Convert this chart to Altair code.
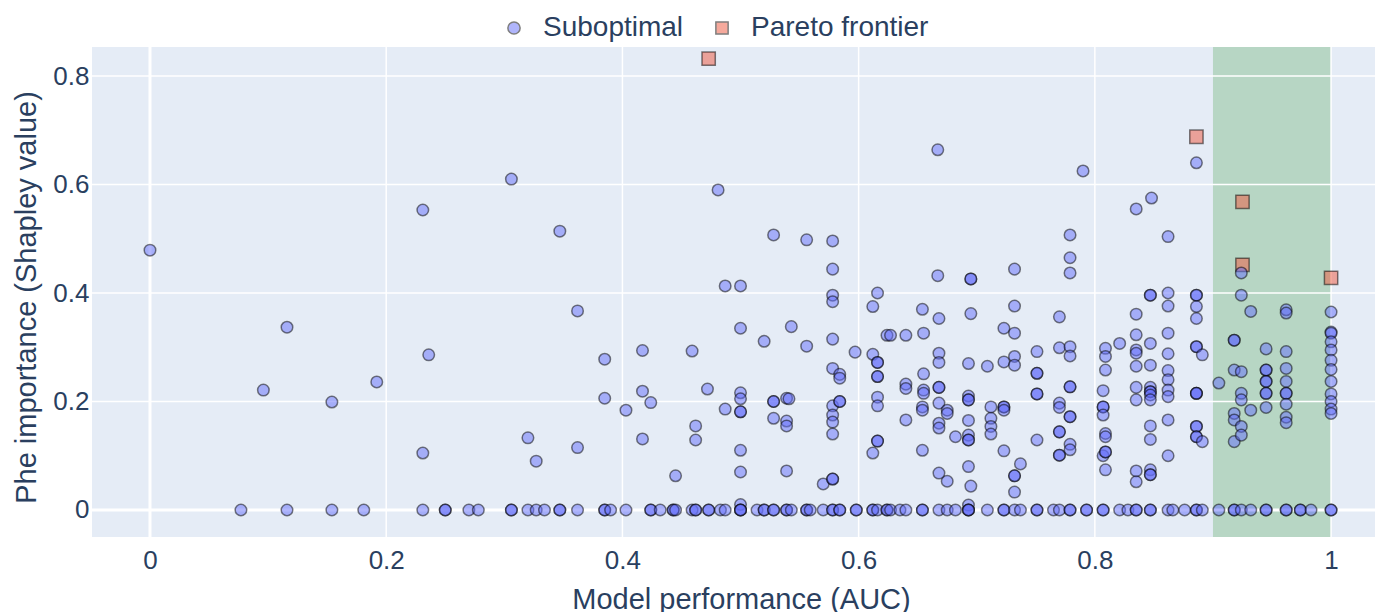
import altair as alt
import pandas as pd

# ---------------- data ----------------
# Suboptimal models with non-zero importance
sub_x = [
    0.000, 0.096, 0.116, 0.154, 0.192, 0.231, 0.236, 0.231, 0.306, 0.320, 0.327, 0.347,
    0.362, 0.362, 0.385, 0.385, 0.403, 0.417, 0.417, 0.417, 0.424, 0.445,
    0.459, 0.462, 0.462, 0.472, 0.481, 0.487, 0.487, 0.500, 0.500, 0.500, 0.500, 0.500,
    0.500, 0.500, 0.500, 0.500, 0.520, 0.528, 0.528, 0.528, 0.528, 0.539, 0.541, 0.539,
    0.539, 0.539, 0.543, 0.556, 0.556, 0.570, 0.578, 0.578, 0.578, 0.578, 0.578, 0.578,
    0.578, 0.578, 0.578, 0.578, 0.578, 0.578, 0.584, 0.584, 0.584, 0.584, 0.597, 0.612,
    0.612, 0.612, 0.616, 0.616, 0.616, 0.616, 0.616, 0.616, 0.616, 0.616, 0.616, 0.624,
    0.627, 0.640, 0.640, 0.640, 0.640, 0.654, 0.655, 0.655, 0.655, 0.655, 0.654, 0.654,
    0.654, 0.667, 0.667, 0.668, 0.668, 0.668, 0.668, 0.668, 0.668, 0.668, 0.668, 0.668,
    0.675, 0.675, 0.675, 0.682, 0.693, 0.693, 0.693, 0.693, 0.693, 0.693, 0.693, 0.693,
    0.693, 0.695, 0.693, 0.695, 0.695, 0.695, 0.709, 0.712, 0.712, 0.712, 0.712, 0.723,
    0.723, 0.723, 0.723, 0.723, 0.723, 0.732, 0.732, 0.732, 0.732, 0.732, 0.732, 0.732,
    0.732, 0.737, 0.751, 0.751, 0.751, 0.751, 0.751, 0.751, 0.770, 0.770, 0.770, 0.770,
    0.770, 0.770, 0.770, 0.770, 0.779, 0.779, 0.779, 0.779, 0.779, 0.779, 0.779, 0.779,
    0.779, 0.779, 0.779, 0.790, 0.807, 0.807, 0.807, 0.807, 0.807, 0.809, 0.809, 0.809,
    0.809, 0.809, 0.809, 0.809, 0.809, 0.821, 0.835, 0.835, 0.835, 0.835, 0.835, 0.835,
    0.835, 0.835, 0.835, 0.835, 0.848, 0.847, 0.847, 0.847, 0.847, 0.847, 0.847, 0.847,
    0.847, 0.847, 0.847, 0.847, 0.847, 0.847, 0.847, 0.862, 0.862, 0.862, 0.862, 0.862,
    0.862, 0.862, 0.862, 0.862, 0.862, 0.862, 0.886, 0.886, 0.886, 0.886, 0.886, 0.886,
    0.886, 0.891, 0.886, 0.886, 0.886, 0.886, 0.886, 0.886, 0.886, 0.891,
    0.905, 0.918, 0.918, 0.918, 0.918, 0.918, 0.918, 0.924, 0.924, 0.924, 0.924, 0.924,
    0.924, 0.924, 0.932, 0.932, 0.945, 0.945, 0.945, 0.945, 0.945, 0.945, 0.945, 0.945,
    0.962, 0.962, 0.962, 0.962, 0.962, 0.962, 0.962, 0.962, 0.962, 0.962,
    1.000, 1.000, 1.000, 1.000, 1.000, 1.000, 1.000, 1.000, 1.000, 1.000, 1.000, 1.000,
]
sub_y = [
    0.479, 0.221, 0.337, 0.199, 0.236, 0.553, 0.286, 0.105, 0.610, 0.133, 0.090, 0.514,
    0.367, 0.115, 0.278, 0.206, 0.184, 0.294, 0.219, 0.131, 0.198, 0.063,
    0.293, 0.155, 0.129, 0.223, 0.590, 0.413, 0.186, 0.413, 0.335, 0.216, 0.205, 0.181,
    0.181, 0.110, 0.070, 0.010, 0.311, 0.507, 0.200, 0.200, 0.169, 0.206, 0.205, 0.164,
    0.155, 0.072, 0.338, 0.498, 0.302, 0.048, 0.496, 0.444, 0.396, 0.384, 0.315, 0.261,
    0.192, 0.175, 0.162, 0.140, 0.057, 0.057, 0.250, 0.243, 0.200, 0.200, 0.291, 0.375,
    0.287, 0.105, 0.400, 0.272, 0.272, 0.246, 0.246, 0.208, 0.192, 0.127, 0.127, 0.322,
    0.322, 0.322, 0.232, 0.224, 0.166, 0.370, 0.326, 0.251, 0.221, 0.215, 0.190, 0.184,
    0.110, 0.664, 0.432, 0.353, 0.289, 0.272, 0.226, 0.226, 0.197, 0.160, 0.151, 0.068,
    0.184, 0.178, 0.053, 0.135, 0.270, 0.210, 0.203, 0.203, 0.165, 0.138, 0.129, 0.129,
    0.080, 0.044, 0.009, 0.426, 0.426, 0.362, 0.265, 0.190, 0.169, 0.154, 0.140, 0.335,
    0.273, 0.190, 0.190, 0.184, 0.109, 0.444, 0.376, 0.326, 0.283, 0.267, 0.063, 0.063,
    0.033, 0.085, 0.292, 0.252, 0.252, 0.214, 0.214, 0.129, 0.356, 0.299, 0.197, 0.189,
    0.144, 0.144, 0.101, 0.101, 0.507, 0.465, 0.437, 0.301, 0.284, 0.227, 0.227, 0.172,
    0.172, 0.121, 0.111, 0.625, 0.220, 0.190, 0.190, 0.175, 0.100, 0.298, 0.283, 0.258,
    0.141, 0.135, 0.107, 0.107, 0.074, 0.307, 0.555, 0.361, 0.323, 0.295, 0.289, 0.265,
    0.226, 0.203, 0.072, 0.052, 0.575, 0.396, 0.396, 0.307, 0.267, 0.226, 0.218, 0.218,
    0.212, 0.203, 0.155, 0.130, 0.074, 0.065, 0.065, 0.504, 0.400, 0.376, 0.326, 0.288,
    0.257, 0.240, 0.221, 0.209, 0.166, 0.100, 0.640, 0.396, 0.396, 0.375, 0.353, 0.301,
    0.301, 0.286, 0.215, 0.215, 0.215, 0.154, 0.154, 0.135, 0.135, 0.126,
    0.234, 0.313, 0.313, 0.258, 0.178, 0.166, 0.126, 0.437, 0.396, 0.255, 0.215, 0.203,
    0.154, 0.138, 0.366, 0.184, 0.297, 0.258, 0.258, 0.237, 0.237, 0.215, 0.215, 0.189,
    0.369, 0.363, 0.292, 0.261, 0.237, 0.215, 0.215, 0.195, 0.171, 0.161,
    0.365, 0.328, 0.326, 0.310, 0.295, 0.276, 0.259, 0.237, 0.214, 0.200, 0.186, 0.178,
]
# Suboptimal models with zero importance (AUC values)
zero_x = [
    0.077, 0.116, 0.154, 0.181, 0.231, 0.250, 0.250, 0.270, 0.278,
    0.306, 0.306, 0.320, 0.327, 0.334, 0.347, 0.347, 0.362, 0.385, 0.385, 0.390, 0.403,
    0.424, 0.424, 0.432, 0.443, 0.443, 0.445, 0.459, 0.462, 0.462, 0.473, 0.473, 0.483,
    0.487, 0.500, 0.500, 0.500, 0.514, 0.520, 0.520, 0.528, 0.528, 0.539, 0.539, 0.543,
    0.556, 0.556, 0.559, 0.570, 0.578, 0.578, 0.584, 0.584, 0.598, 0.598, 0.612, 0.612,
    0.616, 0.624, 0.624,
    0.627, 0.635, 0.640, 0.654, 0.654, 0.668, 0.675, 0.682, 0.693, 0.693, 0.693, 0.709,
    0.723, 0.723, 0.732, 0.737, 0.751, 0.751, 0.765, 0.770, 0.779, 0.779, 0.793, 0.793,
    0.807, 0.807, 0.821, 0.828, 0.835, 0.835, 0.847, 0.847, 0.862, 0.866, 0.876, 0.886,
    0.886, 0.891, 0.905, 0.918, 0.918, 0.924, 0.932, 0.945, 0.945, 0.962, 0.962, 0.974,
    0.974, 0.983, 1.000, 1.000,
]
pareto_x = [0.473, 0.886, 0.925, 0.925, 1.000]
pareto_y = [0.832, 0.688, 0.568, 0.452, 0.428]

x_ticks = [0, 0.2, 0.4, 0.6, 0.8, 1]
y_ticks = [0, 0.2, 0.4, 0.6, 0.8]
band_start, band_end = [0.9], [1.0]
labels = ["Suboptimal", "Pareto frontier"]

# ---------------- tables ----------------
sub = pd.DataFrame({
    "auc": sub_x + zero_x,
    "imp": sub_y + [0.0] * len(zero_x),
    "type": labels[0],
})
par = pd.DataFrame({"auc": pareto_x, "imp": pareto_y, "type": labels[1]})
band = pd.DataFrame({"x0": band_start, "x1": band_end})
gx = pd.DataFrame({"v": x_ticks, "w": [3 if v == 0 else 1.5 for v in x_ticks]})
gy = pd.DataFrame({"v": y_ticks, "w": [3 if v == 0 else 1.5 for v in y_ticks]})

FONT = "Liberation Sans"
TXT = "#2a3f5f"
xs = alt.Scale(domain=[-0.0491, 1.0372], nice=False, zero=False)
ys = alt.Scale(domain=[-0.0498, 0.8535], nice=False, zero=False)

fill = alt.Fill("type:N", scale=alt.Scale(domain=labels, range=["#636efa", "#EF553B"]),
                legend=alt.Legend(title=None, orient="none", direction="horizontal",
                                  legendX=408, legendY=-33,
                                  symbolSize=150, symbolStrokeWidth=1.5,
                                  symbolOpacity=0.5,
                                  labelOffset=15, columnPadding=24))
shape = alt.Shape("type:N", scale=alt.Scale(domain=labels, range=["circle", "square"]))
stroke = alt.Stroke("type:N", scale=alt.Scale(domain=labels, range=["black", "black"]))

xaxis = alt.Axis(title="Model performance (AUC)", values=x_ticks, format="~g",
                 grid=False, domain=False, ticks=False, labelBaseline="alphabetic",
                 labelPadding=31, titleY=71, titleX=649, titleBaseline="alphabetic",
                 titleAlign="center")
yaxis = alt.Axis(title="Phe importance (Shapley value)", values=y_ticks, format="~g",
                 grid=False, domain=False, ticks=False, labelPadding=3,
                 titleX=-57, titleY=250, titleAngle=270, titleBaseline="alphabetic",
                 titleAlign="center")

X = lambda f: alt.X(f, scale=xs, axis=xaxis)
Y = lambda f: alt.Y(f, scale=ys, axis=yaxis)

rect = alt.Chart(band).mark_rect(color="green", opacity=0.2).encode(
    x=X("x0:Q"), x2="x1:Q")

grid_x = alt.Chart(gx).mark_rule(color="white").encode(
    x=X("v:Q"),
    strokeWidth=alt.StrokeWidth("w:Q", scale=None, legend=None))
grid_y = alt.Chart(gy).mark_rule(color="white").encode(
    y=Y("v:Q"),
    strokeWidth=alt.StrokeWidth("w:Q", scale=None, legend=None))

p_par = alt.Chart(par).mark_point(filled=True, size=177, fillOpacity=0.5,
                                  strokeOpacity=0.5, strokeWidth=1.5).encode(
    x=X("auc:Q"), y=Y("imp:Q"), fill=fill, shape=shape, stroke=stroke)
p_sub = alt.Chart(sub).mark_point(filled=True, size=133, fillOpacity=0.5,
                                  strokeOpacity=0.5, strokeWidth=1.5).encode(
    x=X("auc:Q"), y=Y("imp:Q"), fill=fill, shape=shape, stroke=stroke)

chart = alt.layer(rect, grid_x, grid_y, p_par, p_sub).properties(
    width=1283, height=490,
    padding={"left": 84, "top": 39, "right": 0, "bottom": 77},
    autosize=alt.AutoSizeParams(type="none"),
    background="white",
).configure_view(fill="#E5ECF6", strokeWidth=0).configure_axis(
    labelFont=FONT, titleFont=FONT, labelFontSize=26, titleFontSize=29,
    labelColor=TXT, titleColor=TXT, titleFontWeight="normal",
).configure_legend(
    labelFont=FONT, labelFontSize=28, labelColor=TXT, labelLimit=400, padding=0,
)

chart.save("out.html", embed_options={"renderer": "svg", "actions": False})
